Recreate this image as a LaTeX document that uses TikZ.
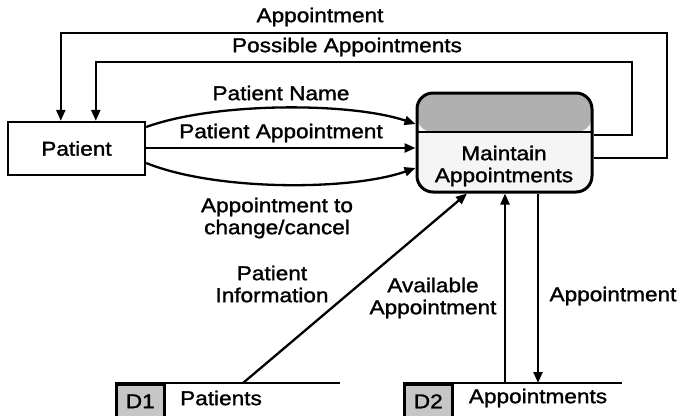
\documentclass[tikz,border=0pt]{standalone}
\usepackage{fontspec}
\setmainfont{Liberation Sans}[FakeStretch=1.13,FakeBold=1.4]
\usetikzlibrary{arrows.meta,calc}
\begin{document}
\begin{tikzpicture}[x=1pt,y=-1pt,
  txt/.style={font=\fontsize{20}{22}\selectfont,align=center,inner sep=0pt},
  flow/.style={line width=2.3pt,-{Triangle[length=11pt,width=9pt]}},
  entity/.style={txt,draw,line width=2.4pt,minimum width=137pt,minimum height=53pt},
  process/.style={draw,line width=3pt,rounded corners=16pt,
    minimum width=175pt,minimum height=99pt,inner sep=0pt,fill=gray!8,
    path picture={
      \fill[gray!62] (path picture bounding box.north west) rectangle
        ([yshift=-39pt]path picture bounding box.north east);
      \draw[line width=2.5pt] ([yshift=-39pt]path picture bounding box.north west) --
        ([yshift=-39pt]path picture bounding box.north east);}},
  idbox/.style={txt,draw,line width=2.6pt,fill=gray!45,minimum width=48pt,
    minimum height=34pt,anchor=north west},
  storeline/.style={line width=2.4pt}
]
\useasboundingbox (0,0) rectangle (682,415);

% external entity and process
\node[entity] (pat) at (76.5,148.5) {Patient};
\node[process] (proc) at (504.5,142.5) {};
\node[txt] (proctext) at (504,166) {Maintain\\Appointments};

% data stores
\node[idbox] (s1id) at (115,383) {D1};
\draw[storeline] (s1id.north west) -- ++(225,0);
\node[txt] (s1) at (221,398) {Patients};
\node[idbox] (s2id) at (403,383) {D2};
\draw[storeline] (s2id.north west) -- ++(219,0);
\node[txt] (s2) at (538,398) {Appointments};

% flows from the patient into the process
\draw[flow] (pat.east |- 0,127) .. controls (215,102) and (350,102) .. (proc.west |- 0,124);
\draw[flow] (pat.east |- 0,148) -- (proc.west |- 0,148);
\draw[flow] (pat.east |- 0,163) .. controls (215,191) and (350,191) .. (proc.west |- 0,168);

% flows from the process back to the patient
\draw[flow] (proc.east |- 0,135) -| (632,62) -| ($(pat.north west)+(89,0)$);
\draw[flow] (proc.east |- 0,158) -| (667,33) -| ($(pat.north west)+(54,0)$);

% flows between the process and the stores
\draw[flow] ($(s1id.north west)+(128,0)$) -- (proc.south -| 467,0);
\draw[flow] (s2id.north -| 505,0) -- (proc.south -| 505,0);
\draw[flow] (proc.south -| 538,0) -- (s2id.north -| 538,0);

% flow labels
\node[txt] (l1) at (320,17) {Appointment};
\node[txt] (l2) at (347,47) {Possible Appointments};
\node[txt] (l3) at (281,93) {Patient Name};
\node[txt] (l4) at (281,133) {Patient Appointment};
\node[txt] (l5) at (277,218) {Appointment to\\change/cancel};
\node[txt] (l6) at (272,284) {Patient\\Information};
\node[txt] (l7) at (433,298) {Available\\Appointment};
\node[txt] (l8) at (613,296) {Appointment};
\end{tikzpicture}
\end{document}
